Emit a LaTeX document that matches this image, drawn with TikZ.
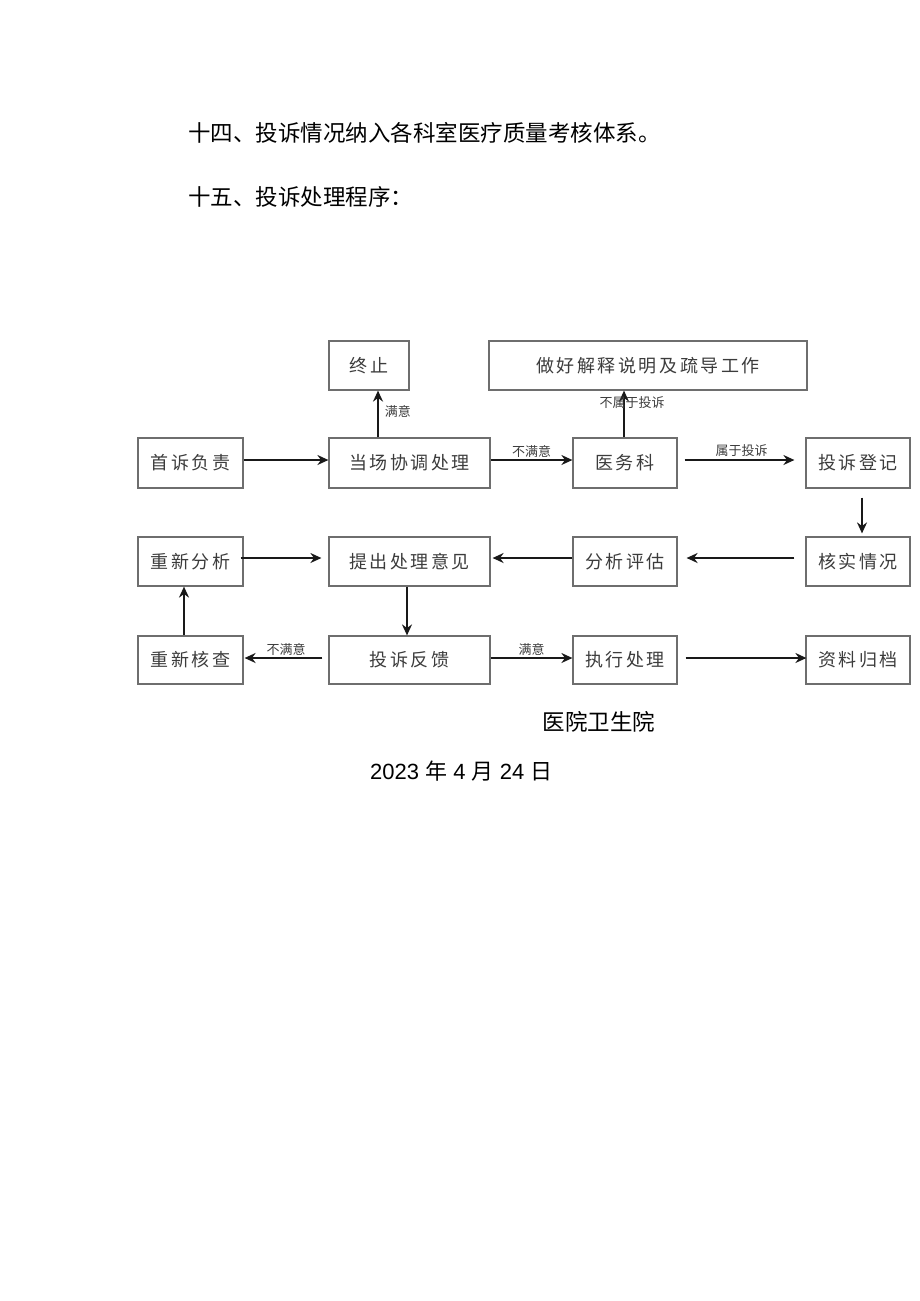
\documentclass[tikz,border=0pt]{standalone}
\usepackage{fontspec}
\setmainfont{Liberation Sans}
\newfontfamily\cjk{Noto Sans CJK SC}
\newfontfamily\cjkbox[LetterSpace=14]{Noto Sans CJK SC}
\usetikzlibrary{arrows.meta}
\definecolor{boxline}{HTML}{6E6E6E}
\definecolor{boxtext}{HTML}{3C3C3C}
\tikzset{
  x=1pt, y=-1pt,
  stepbox/.style={draw=boxline, line width=1.2pt, rectangle, inner sep=0pt,
    text=boxtext, font=\cjkbox\fontsize{18}{20}\selectfont},
  arr/.style={draw=black!90, line width=1.7pt, -{Stealth[length=11pt,width=10pt]}},
  lab/.style={text=boxtext, font=\cjk\fontsize{13}{15}\selectfont, inner sep=1pt},
  body/.style={font=\cjk\fontsize{22.5}{24}\selectfont, inner sep=0pt, text=black},
}
\begin{document}
\begin{tikzpicture}
\useasboundingbox (0,0) rectangle (920,1301);
% heading text
\node[body, anchor=west] (h14) at (188,133) {十四、投诉情况纳入各科室医疗质量考核体系。};
\node[body, anchor=west] (h15) at (188,197) {十五、投诉处理程序：};
% boxes
\node[stepbox, minimum width=80pt, minimum height=49pt] (zz) at (369,365.5) {终止};
\node[stepbox, minimum width=318pt, minimum height=49pt] (js) at (648,365.5) {做好解释说明及疏导工作};
\node[stepbox, minimum width=105pt, minimum height=50pt] (sf) at (190.5,463) {首诉负责};
\node[stepbox, minimum width=161pt, minimum height=50pt] (dc) at (409.5,463) {当场协调处理};
\node[stepbox, minimum width=104pt, minimum height=50pt] (yw) at (625,463) {医务科};
\node[stepbox, minimum width=104pt, minimum height=50pt] (dj) at (858,463) {投诉登记};
\node[stepbox, minimum width=105pt, minimum height=49pt] (cf) at (190.5,561.5) {重新分析};
\node[stepbox, minimum width=161pt, minimum height=49pt] (tc) at (409.5,561.5) {提出处理意见};
\node[stepbox, minimum width=104pt, minimum height=49pt] (fx) at (625,561.5) {分析评估};
\node[stepbox, minimum width=104pt, minimum height=49pt] (hs) at (858,561.5) {核实情况};
\node[stepbox, minimum width=105pt, minimum height=48pt] (hc) at (190.5,660) {重新核查};
\node[stepbox, minimum width=161pt, minimum height=48pt] (fk) at (409.5,660) {投诉反馈};
\node[stepbox, minimum width=104pt, minimum height=48pt] (zx) at (625,660) {执行处理};
\node[stepbox, minimum width=104pt, minimum height=48pt] (gd) at (858,660) {资料归档};
% connectors
\draw[arr] ([yshift=3pt]sf.east) -- ([yshift=3pt]dc.west);
\draw[arr] ([xshift=-31.5pt]dc.north) -- ([xshift=-31.5pt]dc.north |- zz.south)
  node[lab, pos=0.55, right=5pt] (l1) {满意};
\draw[arr] ([yshift=3pt]dc.east) -- ([yshift=3pt]yw.west) node[lab, midway, above=1pt] (l2) {不满意};
\draw[arr] ([xshift=-1pt]yw.north) -- ([xshift=-1pt]yw.north |- js.south);
\node[lab] (l3) at (632,403) {不属于投诉};
\draw[arr, shorten <=7pt, shorten >=11pt] ([yshift=3pt]yw.east) -- ([yshift=3pt]dj.west) node[lab, midway, above=2pt] (l4) {属于投诉};
\draw[arr, shorten <=9pt, shorten >=3pt] ([xshift=4pt]dj.south) -- ([xshift=4pt]dj.south |- hs.north);
\draw[arr, shorten <=11pt, shorten >=9pt] ([yshift=3.5pt]hs.west) -- ([yshift=3.5pt]fx.east);
\draw[arr, shorten >=2pt] ([yshift=3.5pt]fx.west) -- ([yshift=3.5pt]tc.east);
\draw[arr, shorten <=-3pt, shorten >=7pt] ([yshift=3.5pt]cf.east) -- ([yshift=3.5pt]tc.west);
\draw[arr] ([xshift=-2.5pt]tc.south) -- ([xshift=-2.5pt]tc.south |- fk.north);
\draw[arr, shorten <=6pt, shorten >=1pt] ([yshift=2pt]fk.west) -- ([yshift=2pt]hc.east)
  node[lab, midway, above=1pt] (l5) {不满意};
\draw[arr] ([xshift=-6.5pt]hc.north) -- ([xshift=-6.5pt]hc.north |- cf.south);
\draw[arr] ([yshift=2pt]fk.east) -- ([yshift=2pt]zx.west) node[lab, midway, above=1pt] (l6) {满意};
\draw[arr, shorten <=8pt, shorten >=-1pt] ([yshift=2pt]zx.east) -- ([yshift=2pt]gd.west);
% signature
\node[body] (org) at (599,722) {医院卫生院};
\node[font=\fontsize{22}{24}\selectfont, inner sep=0pt, anchor=west] (date) at (370,771)
  {2023 {\cjk 年} 4 {\cjk 月} 24 {\cjk 日}};
\end{tikzpicture}
\end{document}
